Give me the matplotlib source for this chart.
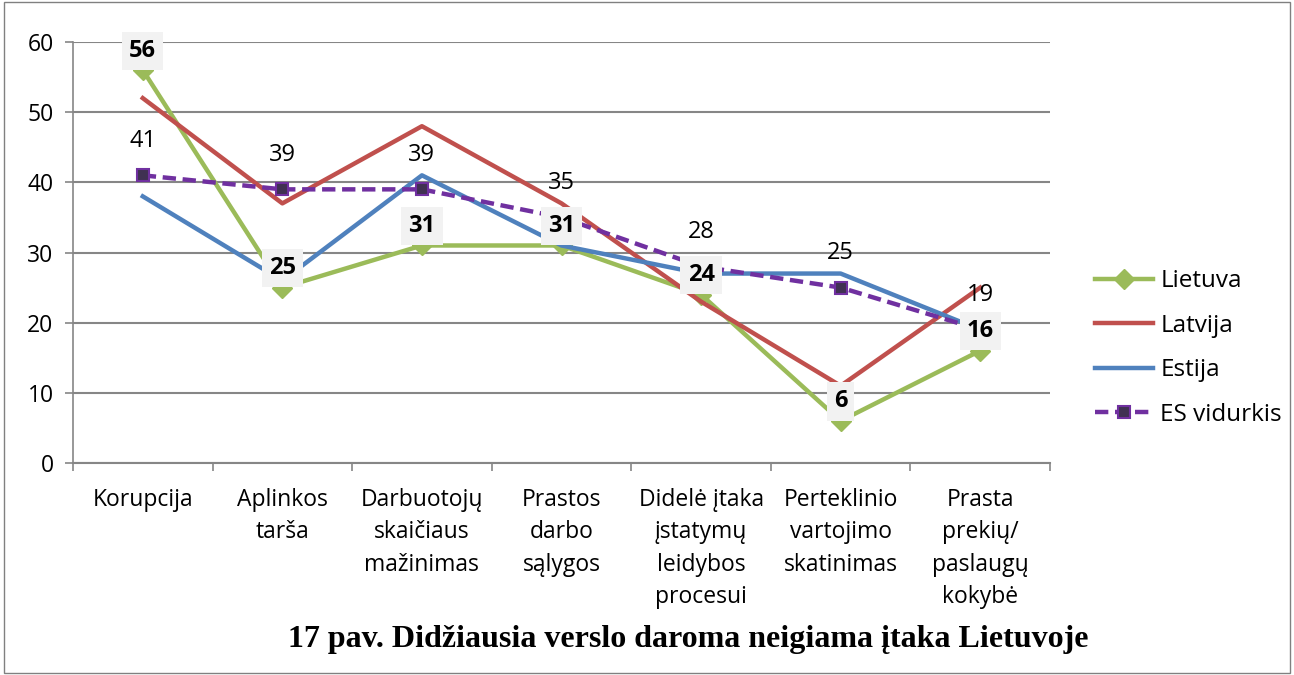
import matplotlib.pyplot as plt
from matplotlib.patches import Rectangle

# data
categories = ['Korupcija', 'Aplinkos\ntarša', 'Darbuotojų\nskaičiaus\nmažinimas',
              'Prastos\ndarbo\nsąlygos', 'Didelė įtaka\nįstatymų\nleidybos\nprocesui',
              'Perteklinio\nvartojimo\nskatinimas', 'Prasta\nprekių/\npaslaugų\nkokybė']
lietuva = [56, 25, 31, 31, 24, 6, 16]
latvija = [52, 37, 48, 37, 23, 11, 25]
estija = [38, 26, 41, 31, 27, 27, 19]
es_vid = [41, 39, 39, 35, 28, 25, 19]
yticks = [0, 10, 20, 30, 40, 50, 60]

plt.rcParams['font.family'] = ['Open Sans', 'DejaVu Sans']

fig = plt.figure(figsize=(12.94, 6.75), dpi=100)
ax = fig.add_axes([73 / 1294, 1 - 463 / 675, (1050 - 73) / 1294, (463 - 42) / 675])

x = list(range(len(categories)))

ax.plot(x, lietuva, color='#9BBB59', lw=3.2, marker='D', ms=10, label='Lietuva', zorder=3)
ax.plot(x, latvija, color='#C0504D', lw=3.2, label='Latvija', zorder=3)
ax.plot(x, estija, color='#4F81BD', lw=3.2, label='Estija', zorder=3)
ax.plot(x, es_vid, color='#7030A0', lw=3.2, ls=(0, (3, 1.5)), marker='s', ms=9,
        mfc='#403152', mec='#7030A0', mew=1.5, label='ES vidurkis', zorder=4)

for xi, v in zip(x, lietuva):
    ax.annotate(str(v), (xi, v), xytext=(0, 14), textcoords='offset points',
                ha='center', va='center', fontsize=17, fontweight='bold', zorder=6,
                bbox=dict(boxstyle='square,pad=0.3', fc='#F2F2F2', ec='none'))
for xi, v in zip(x, es_vid):
    ax.annotate(str(v), (xi, v), xytext=(0, 25), textcoords='offset points',
                ha='center', va='center', fontsize=17, zorder=6)

ax.set_xlim(-0.5, len(categories) - 0.5)
ax.set_ylim(0, 60)
ax.set_yticks(yticks)
ax.set_xticks(x)
ax.set_xticklabels(categories, fontsize=16.5, linespacing=1.47, va='top')
ax.tick_params(axis='x', length=0, pad=18)
ax.set_xticks([i - 0.5 for i in range(len(categories) + 1)], minor=True)
ax.tick_params(axis='x', which='minor', length=6, color='#868686', width=1.2)
ax.tick_params(axis='y', labelsize=16.5, length=6, color='#868686', width=1.2, pad=8)
ax.yaxis.grid(True, color='#868686', lw=1.5)
ax.set_axisbelow(True)
for s in ['top', 'right']:
    ax.spines[s].set_visible(False)
ax.spines['left'].set_color('#868686')
ax.spines['bottom'].set_color('#868686')
ax.spines['left'].set_linewidth(1.2)
ax.spines['bottom'].set_linewidth(1.5)

fig.legend(loc='center left', bbox_to_anchor=(1073 / 1294, 1 - 348 / 675), frameon=False,
           fontsize=17.5, handlelength=2.4, labelspacing=0.85, handletextpad=0.3)

fig.text(0.532, 1 - 639 / 675, '17 pav. Didžiausia verslo daroma neigiama įtaka Lietuvoje',
         ha='center', va='center', fontsize=23, fontweight='bold', family='Liberation Serif')

fig.patches.append(Rectangle((0.003, 0.003), 0.994, 0.994, transform=fig.transFigure,
                             fill=False, ec='#808080', lw=1))

plt.savefig('out.png', dpi=100)
